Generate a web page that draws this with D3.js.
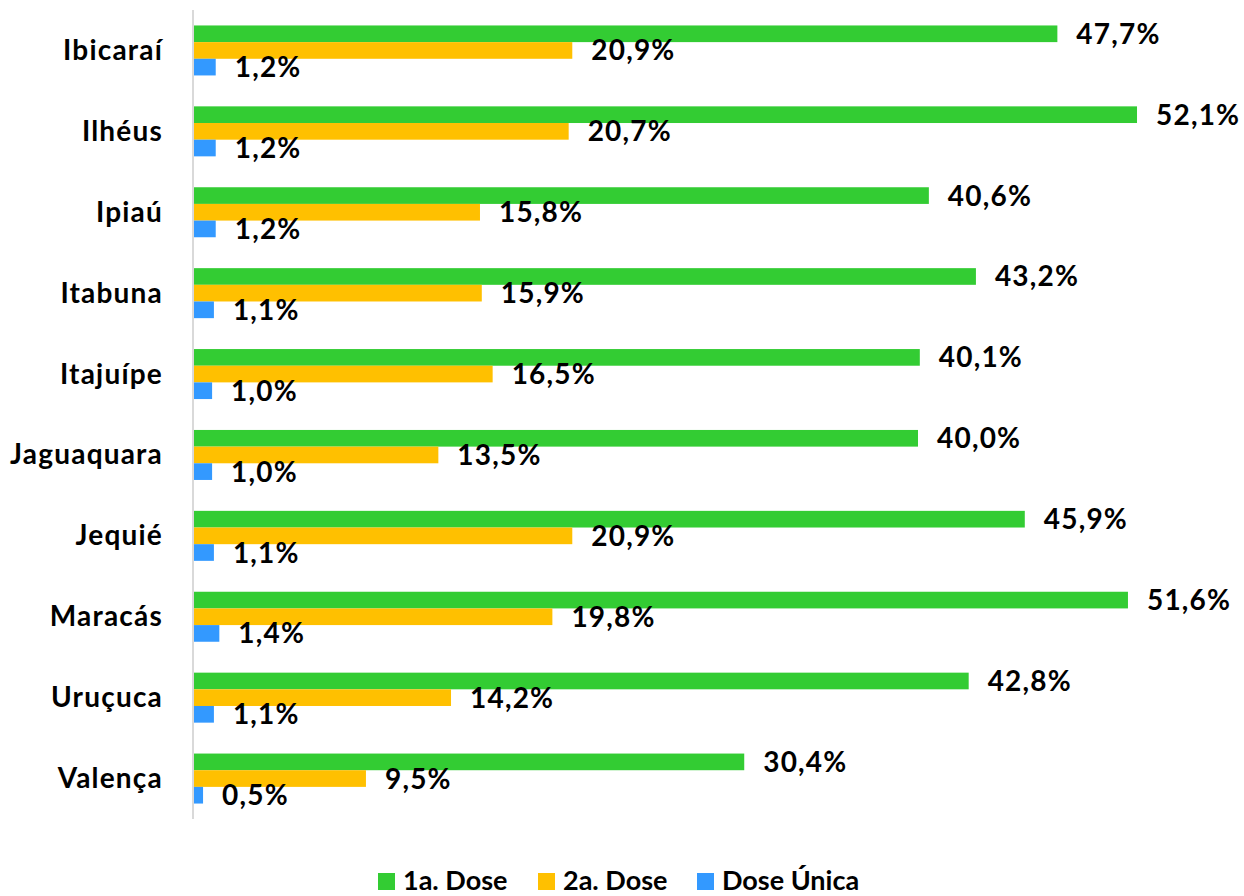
<!DOCTYPE html>
<html>
<head>
<meta charset="utf-8">
<script src="https://cdn.jsdelivr.net/npm/d3@7"></script>
<style>
  body { margin: 0; background: #fff; }
  text { font-family: Lato, "Open Sans", sans-serif; font-weight: bold; fill: #000; }
</style>
</head>
<body>
<div id="chart"></div>
<script>
const CITIES = ["Ibicaraí", "Ilhéus", "Ipiaú", "Itabuna", "Itajuípe", "Jaguaquara", "Jequié", "Maracás", "Uruçuca", "Valença"]
const SERIES = ["1a. Dose", "2a. Dose", "Dose Única"]
const DOSE1 = [47.7, 52.1, 40.6, 43.2, 40.1, 40.0, 45.9, 51.6, 42.8, 30.4]
const DOSE2 = [20.9, 20.7, 15.8, 15.9, 16.5, 13.5, 20.9, 19.8, 14.2, 9.5]
const DOSE_UNICA = [1.2, 1.2, 1.2, 1.1, 1.0, 1.0, 1.1, 1.4, 1.1, 0.5]
const COLORS = ["#33cc33", "#ffc000", "#3399ff"]

var width = 1244,
    height = 896;

var svg = d3.select("#chart").append("svg")
  .attr("width", width)
  .attr("height", height);

// one row per city
var rows = CITIES.map(function(c, i) {
  return {city: c, values: [DOSE1[i], DOSE2[i], DOSE_UNICA[i]]};
});

const x = d3.scaleLinear()
  .domain([0, 60])
  .range([194, 194 + 60 * 18.1]);
const y = d3.scaleBand()
  .domain(CITIES)
  .range([10, 819])
  .paddingInner(0.382)
  .paddingOuter(0.191);
const ySub = d3.scaleBand()
  .domain(SERIES)
  .range([0, y.bandwidth()]);
const color = d3.scaleOrdinal()
  .domain(SERIES)
  .range(COLORS);

const locale = d3.formatLocale({decimal: ",", thousands: ".", grouping: [3], currency: ["", ""]});
const fmt = locale.format(".1f");

// vertical axis line
svg.append("line")
  .attr("x1", 193).attr("x2", 193)
  .attr("y1", y.range()[0]).attr("y2", y.range()[1])
  .attr("stroke", "#d9d9d9")
  .attr("stroke-width", 2);

// city labels
svg.append("g")
  .selectAll("text")
  .data(CITIES)
  .join("text")
    .attr("x", 163)
    .attr("y", d => y(d) + y.bandwidth() / 2 + 9.5)
    .attr("text-anchor", "end")
    .style("font-size", "28px")
    .style("letter-spacing", "1.2px")
    .text(d => d);

var groups = svg.append("g")
  .selectAll("g")
  .data(rows)
  .join("g")
    .attr("transform", d => "translate(0," + y(d.city) + ")");

var cells = groups.selectAll("g")
  .data(d => d.values.map((v, i) => ({series: SERIES[i], value: v})))
  .join("g");

cells.append("rect")
  .attr("x", x(0))
  .attr("y", d => ySub(d.series))
  .attr("width", d => x(d.value) - x(0))
  .attr("height", ySub.bandwidth())
  .attr("fill", d => color(d.series));

cells.append("text")
  .attr("x", d => x(d.value) + 19)
  .attr("y", d => ySub(d.series) + ySub.bandwidth() / 2 + 10)
  .style("font-size", "28px")
  .style("letter-spacing", "1.2px")
  .text(d => fmt(d.value) + "%");

// legend
var legendX = [378, 538, 697];
var legend = svg.append("g")
  .selectAll("g")
  .data(SERIES)
  .join("g")
    .attr("transform", (d, i) => "translate(" + legendX[i] + ",873)");

legend.append("rect")
  .attr("width", 17)
  .attr("height", 17)
  .attr("fill", d => color(d));

legend.append("text")
  .attr("x", 25)
  .attr("y", 17)
  .style("font-size", "27px")
  .text(d => d);
</script>
</body>
</html>
